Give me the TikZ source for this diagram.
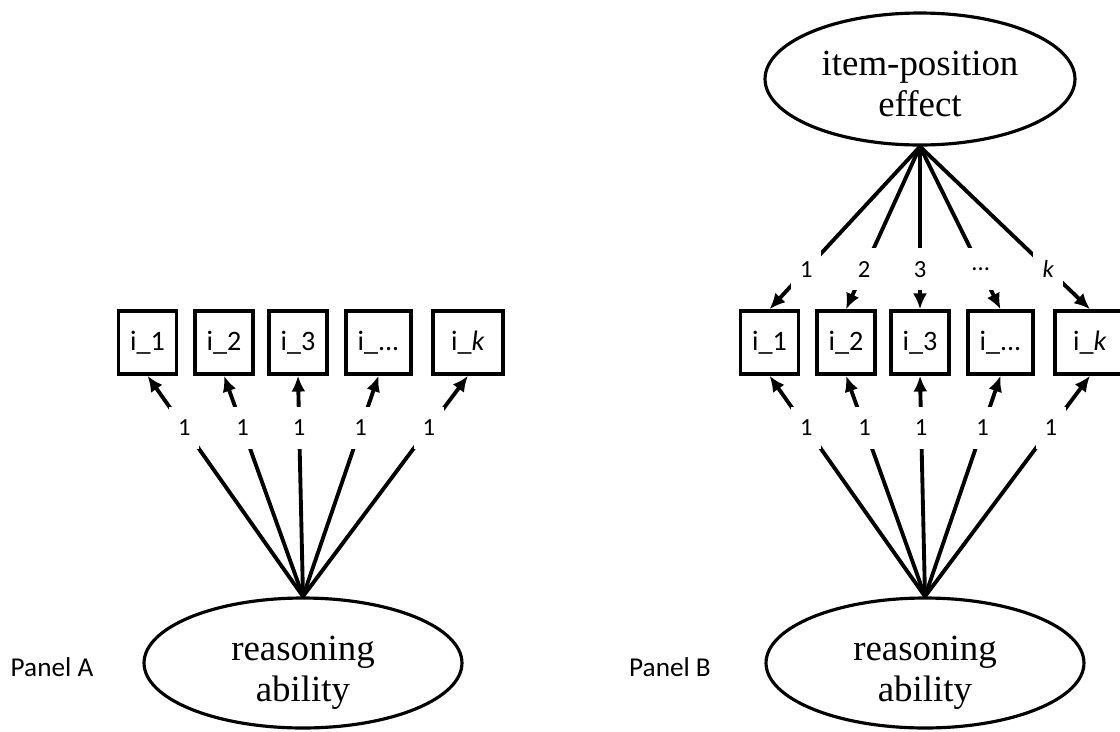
\documentclass[tikz,border=0pt]{standalone}
\usepackage{fontspec}
\setmainfont{Liberation Serif}
\setsansfont{Carlito}
\usetikzlibrary{arrows.meta}
\usetikzlibrary{shapes.geometric}
\tikzset{latent/.style = {draw, ellipse, line width = 1.8pt, inner sep = 0, minimum width = 6.36cm, minimum height = 2.6cm, font = \fontsize{21}{23.5}\selectfont}}
\tikzset{item/.style = {draw, rectangle, line width = 2pt, inner sep = 0, minimum width = 1.16cm, minimum height = 1.26cm, font = \sffamily\fontsize{16}{18}\selectfont}}
\tikzset{coef/.style = {fill = white, inner sep = 0, minimum width = 0.6cm, minimum height = 0.84cm, font = \sffamily\fontsize{14}{16}\selectfont}}
\tikzset{load/.style = {line width = 2.2pt, -{Latex[length = 9pt, width = 8pt]}}}
\newcommand{\twolines}[3]{\raisebox{#1}[\height][\depth]{\shortstack{#2\\[1pt]#3}}}

\begin{document}
\begin{tikzpicture}[x = 0.02cm, y = -0.02cm]
      \useasboundingbox (0, 0) rectangle (1120, 731);

      % Panel A
      \node [latent] (raA) at (303, 663) {\twolines{-5.5pt}{reasoning}{ability}};
      \node [font = \sffamily\fontsize{15.5}{18}\selectfont] (panA) at (52, 667) {Panel A};

      \node [item] (a1) at (147.5, 342.5) {i\_1};
      \node [item] (a2) at (224, 342.5) {i\_2};
      \node [item] (a3) at (298, 342.5) {i\_3};
      \node [item, minimum width = 1.3cm] (a4) at (378.5, 342.5) {i\_...};
      \node [item, minimum width = 1.4cm] (a5) at (468, 342.5) {i\_\textit{k}};

      \draw [load] (raA.north) -- node [coef, pos = 0.763] {1} (a1.south);
      \draw [load] (raA.north) -- node [coef, pos = 0.763] {1} (a2.south);
      \draw [load] (raA.north) -- node [coef, pos = 0.763] {1} (a3.south);
      \draw [load] (raA.north) -- node [coef, pos = 0.763] {1} (a4.south);
      \draw [load] (raA.north) -- node [coef, pos = 0.763] {1} (a5.south);

      % Panel B
      \node [latent] (raB) at (925, 663) {\twolines{-5.5pt}{reasoning}{ability}};
      \node [latent, minimum width = 6.2cm, minimum height = 2.64cm] (ipB) at (920, 79) {\twolines{-3pt}{item-position}{effect}};
      \node [font = \sffamily\fontsize{15.5}{18}\selectfont] (panB) at (670, 667) {Panel B};

      \node [item] (b1) at (769.5, 342.5) {i\_1};
      \node [item] (b2) at (846, 342.5) {i\_2};
      \node [item] (b3) at (920, 342.5) {i\_3};
      \node [item, minimum width = 1.3cm] (b4) at (1000.5, 342.5) {i\_...};
      \node [item, minimum width = 1.4cm] (b5) at (1090, 342.5) {i\_\textit{k}};

      \draw [load] (raB.north) -- node [coef, pos = 0.763] {1} (b1.south);
      \draw [load] (raB.north) -- node [coef, pos = 0.763] {1} (b2.south);
      \draw [load] (raB.north) -- node [coef, pos = 0.763] {1} (b3.south);
      \draw [load] (raB.north) -- node [coef, pos = 0.763] {1} (b4.south);
      \draw [load] (raB.north) -- node [coef, pos = 0.763] {1} (b5.south);

      \draw [load] (ipB.south) -- node [coef, pos = 0.755] {1} (b1.north);
      \draw [load] (ipB.south) -- node [coef, pos = 0.755] {2} (b2.north);
      \draw [load] (ipB.south) -- node [coef, pos = 0.755] {3} (b3.north);
      \draw [load] (ipB.south) -- node [coef, pos = 0.755] {...} (b4.north);
      \draw [load] (ipB.south) -- node [coef, pos = 0.755] {\textit{k}} (b5.north);
    \end{tikzpicture}
\end{document}
